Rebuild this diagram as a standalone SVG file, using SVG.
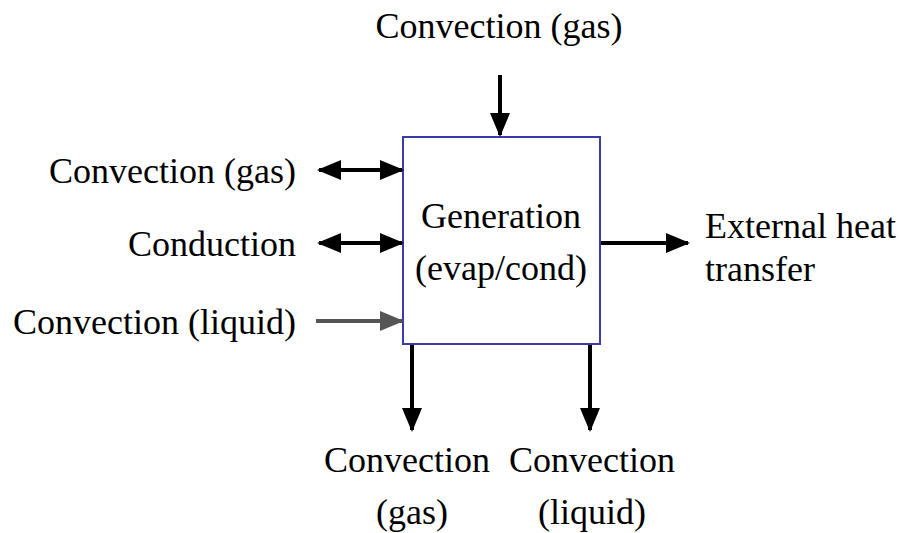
<svg xmlns="http://www.w3.org/2000/svg" width="902" height="533" viewBox="0 0 902 533">
<style>
text{font-family:'Liberation Serif',serif;font-size:36px;fill:#000}
.c{stroke:#000;stroke-width:4;fill:none}
.g{stroke:#555;stroke-width:4;fill:none}
</style>
<defs>
<marker id="ah" markerWidth="6" markerHeight="5" refX="5.5" refY="2.5" orient="auto-start-reverse" markerUnits="strokeWidth"><path d="M0,0L6,2.5L0,5z" fill="#000"/></marker>
<marker id="ahg" markerWidth="6" markerHeight="5" refX="5.5" refY="2.5" orient="auto" markerUnits="strokeWidth"><path d="M0,0L6,2.5L0,5z" fill="#555"/></marker>
</defs>
<rect width="902" height="533" fill="#fff"/>
<g id="box" font-family="Liberation Serif, serif">
<rect x="403" y="137" width="197" height="207" fill="#fff" stroke="#3b3ba8" stroke-width="2"/>
<text x="501" y="228" text-anchor="middle">Generation</text>
<text x="501" y="280" text-anchor="middle">(evap/cond)</text>
</g>
<g id="connectors">
<line class="c" x1="500" y1="75" x2="500" y2="135" marker-end="url(#ah)"/>
<line class="c" x1="319" y1="170" x2="402" y2="170" marker-start="url(#ah)" marker-end="url(#ah)"/>
<line class="c" x1="319" y1="243" x2="402" y2="243" marker-start="url(#ah)" marker-end="url(#ah)"/>
<line class="g" x1="316" y1="321" x2="402" y2="321" marker-end="url(#ahg)"/>
<line class="c" x1="601" y1="243" x2="688" y2="243" marker-end="url(#ah)"/>
<line class="c" x1="412" y1="345" x2="412" y2="430" marker-end="url(#ah)"/>
<line class="c" x1="590" y1="345" x2="590" y2="430" marker-end="url(#ah)"/>
</g>
<g id="labels" font-family="Liberation Serif, serif">
<text x="499" y="38" text-anchor="middle">Convection (gas)</text>
<text x="296" y="183" text-anchor="end">Convection (gas)</text>
<text x="296" y="256" text-anchor="end">Conduction</text>
<text x="296" y="334" text-anchor="end">Convection (liquid)</text>
<text x="705" y="238">External heat</text>
<text x="705" y="281">transfer</text>
<text x="407" y="472" text-anchor="middle">Convection</text>
<text x="412" y="524" text-anchor="middle">(gas)</text>
<text x="592" y="472" text-anchor="middle">Convection</text>
<text x="592" y="524" text-anchor="middle">(liquid)</text>
</g>
</svg>
